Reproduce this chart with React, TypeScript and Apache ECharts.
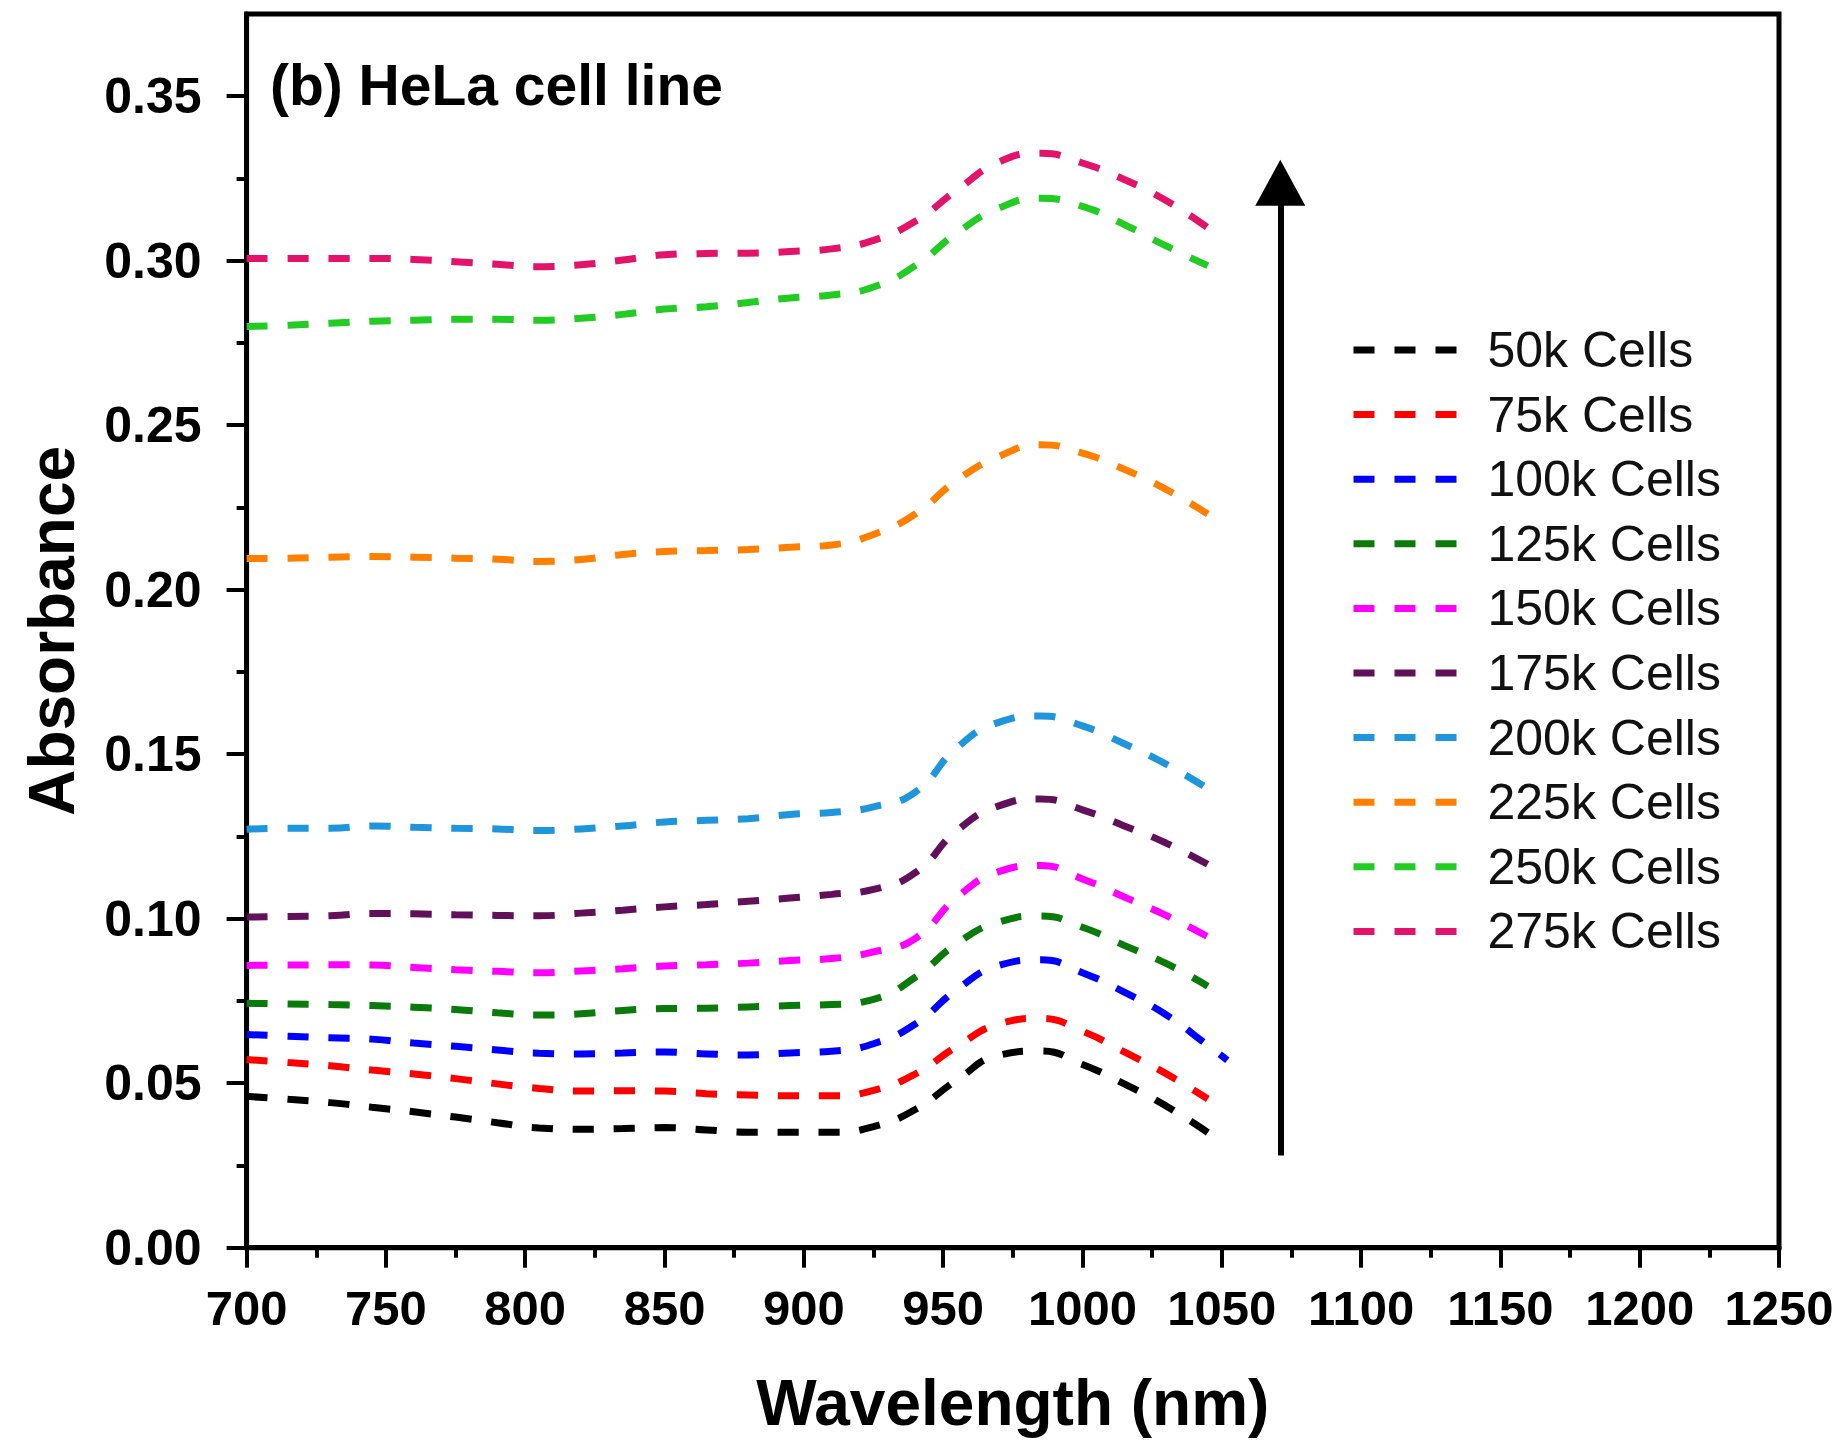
import React, { useEffect, useRef } from "react";
import * as echarts from "echarts";

// Wavelength grid (nm); the last point is only used by the 100k curve
const wavelengths = [700, 715, 730, 745, 760, 775, 790, 805, 820, 835, 850, 865, 880, 895, 910, 925, 940, 955, 970, 985, 1000, 1015, 1030, 1045, 1052];

const seriesNames = ["50k Cells", "75k Cells", "100k Cells", "125k Cells", "150k Cells", "175k Cells", "200k Cells", "225k Cells", "250k Cells", "275k Cells"];
const seriesColors = ["#000000", "#ff0000", "#0000ff", "#0a7a0a", "#ff00ff", "#62105a", "#1f96dc", "#ff8000", "#22cc22", "#e3136a"];

const cells50k = [0.0460, 0.0451, 0.0441, 0.0427, 0.0413, 0.0397, 0.0380, 0.0364, 0.0360, 0.0362, 0.0365, 0.0358, 0.0351, 0.0351, 0.0351, 0.0368, 0.0420, 0.0510, 0.0585, 0.0598, 0.0557, 0.0498, 0.0431, 0.0350];
const cells75k = [0.0572, 0.0563, 0.0553, 0.0540, 0.0528, 0.0514, 0.0498, 0.0484, 0.0476, 0.0477, 0.0476, 0.0468, 0.0464, 0.0462, 0.0462, 0.0478, 0.0528, 0.0612, 0.0680, 0.0697, 0.0658, 0.0595, 0.0529, 0.0452];
const cells100k = [0.0648, 0.0643, 0.0638, 0.0634, 0.0622, 0.0612, 0.0601, 0.0591, 0.0589, 0.0592, 0.0595, 0.0589, 0.0586, 0.0592, 0.0597, 0.0620, 0.0680, 0.0785, 0.0858, 0.0875, 0.0836, 0.0777, 0.0708, 0.0615, 0.0570];
const cells125k = [0.0743, 0.0741, 0.0739, 0.0736, 0.0731, 0.0724, 0.0714, 0.0707, 0.0711, 0.0721, 0.0727, 0.0728, 0.0732, 0.0736, 0.0739, 0.0755, 0.0822, 0.0925, 0.0990, 0.1008, 0.0974, 0.0919, 0.0864, 0.0795];
const cells150k = [0.0858, 0.0859, 0.0860, 0.0859, 0.0852, 0.0845, 0.0840, 0.0836, 0.0841, 0.0848, 0.0856, 0.0860, 0.0865, 0.0873, 0.0879, 0.0899, 0.0940, 0.1065, 0.1143, 0.1162, 0.1121, 0.1066, 0.1010, 0.0945];
const cells175k = [0.1005, 0.1007, 0.1009, 0.1016, 0.1015, 0.1012, 0.1010, 0.1009, 0.1017, 0.1026, 0.1036, 0.1043, 0.1053, 0.1063, 0.1074, 0.1089, 0.1140, 0.1268, 0.1343, 0.1364, 0.1331, 0.1282, 0.1230, 0.1165];
const cells200k = [0.1272, 0.1275, 0.1275, 0.1282, 0.1278, 0.1275, 0.1273, 0.1268, 0.1273, 0.1282, 0.1294, 0.1299, 0.1304, 0.1317, 0.1323, 0.1340, 0.1385, 0.1520, 0.1597, 0.1616, 0.1586, 0.1532, 0.1470, 0.1395];
const cells225k = [0.2095, 0.2096, 0.2099, 0.2101, 0.2099, 0.2096, 0.2093, 0.2086, 0.2092, 0.2107, 0.2116, 0.2119, 0.2122, 0.2129, 0.2136, 0.2168, 0.2230, 0.2333, 0.2405, 0.2441, 0.2415, 0.2366, 0.2305, 0.2230];
const cells250k = [0.2800, 0.2804, 0.2810, 0.2816, 0.2819, 0.2822, 0.2822, 0.2819, 0.2825, 0.2837, 0.2853, 0.2860, 0.2873, 0.2887, 0.2896, 0.2920, 0.2985, 0.3085, 0.3160, 0.3190, 0.3165, 0.3110, 0.3045, 0.2985];
const cells275k = [0.3007, 0.3007, 0.3007, 0.3007, 0.3004, 0.2997, 0.2989, 0.2982, 0.2988, 0.3002, 0.3018, 0.3022, 0.3023, 0.3028, 0.3036, 0.3062, 0.3120, 0.3215, 0.3300, 0.3327, 0.3297, 0.3247, 0.3183, 0.3100];

const seriesValues = [cells50k, cells75k, cells100k, cells125k, cells150k, cells175k, cells200k, cells225k, cells250k, cells275k];

const xTicks = [700, 750, 800, 850, 900, 950, 1000, 1050, 1100, 1150, 1200, 1250];
const yMajorTicks = [0, 0.05, 0.1, 0.15, 0.2, 0.25, 0.3, 0.35];
const yMinorTicks = [0.025, 0.075, 0.125, 0.175, 0.225, 0.275, 0.325];

// Annotation arrow (wavelength, absorbance from -> to)
const arrowX = 1071;
const arrowFrom = 0.028;
const arrowTo = 0.3237;

const FONT = "'Liberation Sans', Arial, Helvetica, sans-serif";

export default function App() {
  const ref = useRef<HTMLDivElement>(null);

  useEffect(() => {
    if (!ref.current) return;
    const chart = echarts.init(ref.current, undefined, { renderer: "svg" });

    const series: any[] = seriesValues.map((vals, i) => ({
      name: seriesNames[i],
      type: "line",
      xAxisIndex: 0,
      yAxisIndex: 0,
      data: vals.map((v, j) => [wavelengths[j], v]),
      symbol: "none",
      smooth: 0.5,
      lineStyle: { color: seriesColors[i], width: 7, type: [21, 20], cap: "butt" },
      itemStyle: { color: seriesColors[i] },
      z: 3,
    }));

    series.push({
      name: "arrow",
      type: "line",
      data: [],
      xAxisIndex: 0,
      yAxisIndex: 0,
      markLine: {
        silent: true,
        animation: false,
        label: { show: false },
        lineStyle: { color: "#000", width: 6, type: "solid" },
        data: [
          [
            { coord: [arrowX, arrowFrom], symbol: "none" },
            { coord: [arrowX, arrowTo], symbol: "triangle", symbolSize: [50, 46] },
          ],
        ],
      },
    });

    chart.setOption({
      animation: false,
      backgroundColor: "#ffffff",
      title: {
        text: "(b) HeLa cell line",
        left: 270,
        top: 56,
        padding: 0,
        textStyle: { fontFamily: FONT, fontWeight: "bold", fontSize: 57, color: "#000" },
      },
      legend: {
        orient: "vertical",
        left: 1350,
        top: 325,
        padding: 0,
        itemWidth: 103,
        itemHeight: 14,
        itemGap: 14.6,
        data: seriesNames,
        lineStyle: { width: 7 },
        itemStyle: { opacity: 0, borderWidth: 0 },
        textStyle: {
          fontFamily: FONT,
          fontSize: 50,
          lineHeight: 50,
          color: "#111",
          padding: [0, 0, 0, 26],
        },
      },
      grid: {
        left: 246.6,
        top: 14,
        right: 62,
        bottom: 197.3,
        show: true,
        borderColor: "#000",
        borderWidth: 5,
        backgroundColor: "transparent",
        containLabel: false,
        outerBoundsMode: "none",
      },
      xAxis: [
        {
          type: "value",
          min: 700,
          max: 1250,
          interval: 50,
          name: "Wavelength (nm)",
          nameLocation: "middle",
          nameGap: 123,
          nameTextStyle: { fontFamily: FONT, fontWeight: "bold", fontSize: 64, color: "#000" },
          axisLine: { show: true, lineStyle: { color: "#000", width: 5 } },
          axisTick: { show: true, inside: false, length: 20, lineStyle: { color: "#000", width: 4 } },
          minorTick: { show: true, splitNumber: 2, length: 10, lineStyle: { color: "#000", width: 4 } },
          axisLabel: {
            show: true,
            margin: 36,
            fontFamily: FONT,
            fontWeight: "bold",
            fontSize: 49,
            color: "#000",
            customValues: xTicks,
            formatter: (v: number) => String(v),
          },
          splitLine: { show: false },
        },
      ],
      yAxis: [
        {
          type: "value",
          min: 0,
          max: 0.375,
          position: "left",
          name: "Absorbance",
          nameLocation: "middle",
          nameGap: 163,
          nameTextStyle: { fontFamily: FONT, fontWeight: "bold", fontSize: 64, color: "#000" },
          axisLine: { show: true, lineStyle: { color: "#000", width: 5 } },
          axisTick: { show: true, inside: false, length: 20, lineStyle: { color: "#000", width: 4 }, customValues: yMajorTicks },
          axisLabel: {
            show: true,
            margin: 45,
            fontFamily: FONT,
            fontWeight: "bold",
            fontSize: 50,
            color: "#000",
            customValues: yMajorTicks,
            formatter: (v: number) => v.toFixed(2),
          },
          splitLine: { show: false },
        },
        {
          type: "value",
          min: 0,
          max: 0.375,
          position: "left",
          axisLine: { show: false },
          axisTick: { show: true, inside: false, length: 10, lineStyle: { color: "#000", width: 4 }, customValues: yMinorTicks },
          axisLabel: { show: false, customValues: yMinorTicks },
          splitLine: { show: false },
        },
      ],
      series,
    });

    return () => chart.dispose();
  }, []);

  return (
    <div
      ref={ref}
      style={{ position: "absolute", left: 0, top: 0, width: 1841, height: 1445, background: "#fff" }}
    />
  );
}
